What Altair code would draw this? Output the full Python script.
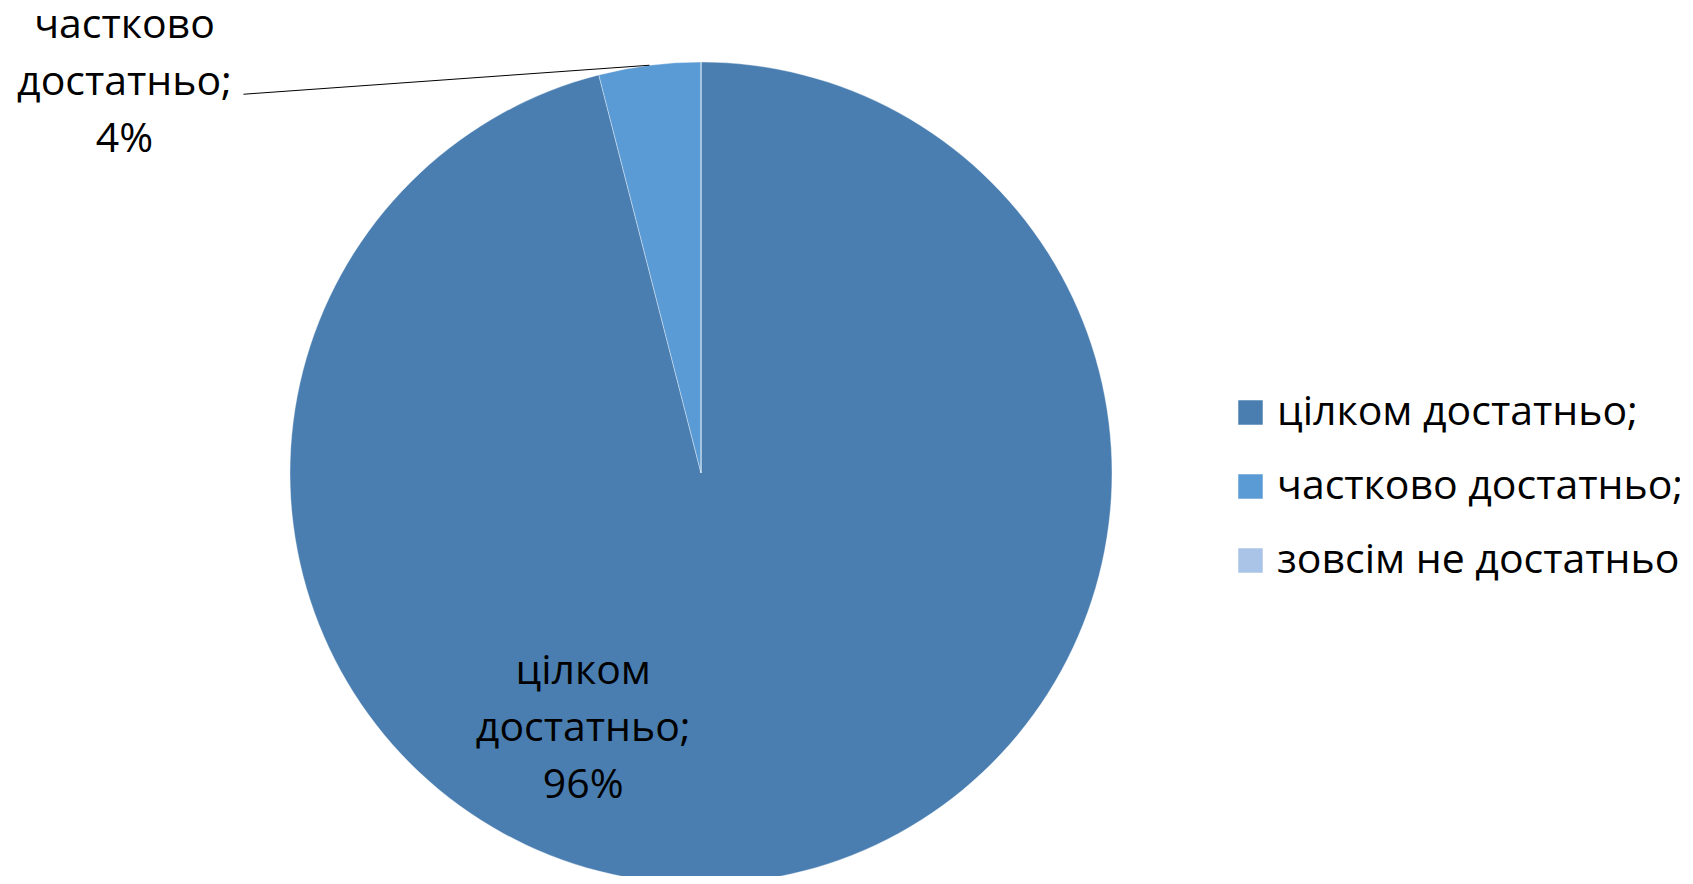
import altair as alt
import pandas as pd

categories = ["цілком достатньо;", "частково достатньо;", "зовсім не достатньо"]
values = [96, 4, 0]
colors = ["#4A7EB0", "#5B9BD5", "#A9C4E6"]
label_lines = [["цілком", "достатньо;", "96%"], ["частково", "достатньо;", "4%"]]

# layout constants (pixels in plot coordinates)
W, H = 1672, 868
CX, CY, R = 693, 465, 411
FONT = "Open Sans"
FS = 41

df = pd.DataFrame({"category": categories, "value": values, "idx": list(range(len(categories)))})

base = alt.Chart(df)

arcs = base.mark_arc(radius=R, stroke="#FFFFFF", strokeWidth=0.6, strokeOpacity=0.6).encode(
    theta=alt.Theta("value:Q", stack=True),
    order=alt.Order("idx:Q"),
    color=alt.Color(
        "category:N",
        scale=alt.Scale(domain=categories, range=colors),
        sort=categories,
        legend=alt.Legend(
            title=None,
            orient="none",
            legendX=1222,
            legendY=384,
            symbolType="square",
            symbolSize=600,
            symbolStrokeWidth=0,
            labelFont=FONT,
            labelFontSize=FS,
            labelColor="#000000",
            labelLimit=600,
            labelOffset=6,
            rowPadding=32,
        ),
    ),
    x=alt.value(CX),
    y=alt.value(CY),
)

pos = (
    base.transform_joinaggregate(total="sum(value)")
    .transform_window(cum="sum(value)", sort=[alt.SortField("idx")], frame=[None, 0])
    .transform_calculate(
        mid="(datum.cum - datum.value/2)/datum.total*2*PI",
        ax=f"{CX} + {R}*sin((datum.cum - datum.value/2)/datum.total*2*PI)",
        ay=f"{CY} - {R}*cos((datum.cum - datum.value/2)/datum.total*2*PI)",
    )
)


def label_layer(cat, lines, rfrac, dx, dy):
    return (
        pos.transform_filter(alt.datum.category == cat)
        .transform_calculate(
            lx=f"{CX} + {R*rfrac}*sin(datum.mid)",
            ly=f"{CY} - {R*rfrac}*cos(datum.mid)",
            txt="'" + "\\n".join(lines) + "'",
        )
        .mark_text(font=FONT, fontSize=FS, color="#000000", lineBreak="\n",
                   lineHeight=57, align="center", baseline="middle", dx=dx, dy=dy)
        .encode(x=alt.X("lx:Q", scale=None), y=alt.Y("ly:Q", scale=None), text="txt:N")
    )


big_label = label_layer(categories[0], label_lines[0], 0.684, -153, -80)
small_label = label_layer(categories[1], label_lines[1], 1.0, -525, -39)

leader = (
    pos.transform_filter(alt.datum.category == categories[1])
    .transform_calculate(ex="datum.ax - 406", ey="datum.ay + 29")
    .mark_rule(color="#000000", strokeWidth=1)
    .encode(
        x=alt.X("ax:Q", scale=None),
        y=alt.Y("ay:Q", scale=None),
        x2="ex:Q",
        y2="ey:Q",
    )
)

chart = (
    alt.layer(arcs, leader, big_label, small_label)
    .properties(width=W, height=H, padding=0, autosize=alt.AutoSizeParams(type="none"))
    .configure_view(stroke=None)
)

chart.save("out.html", embed_options={"renderer": "svg", "actions": False})
